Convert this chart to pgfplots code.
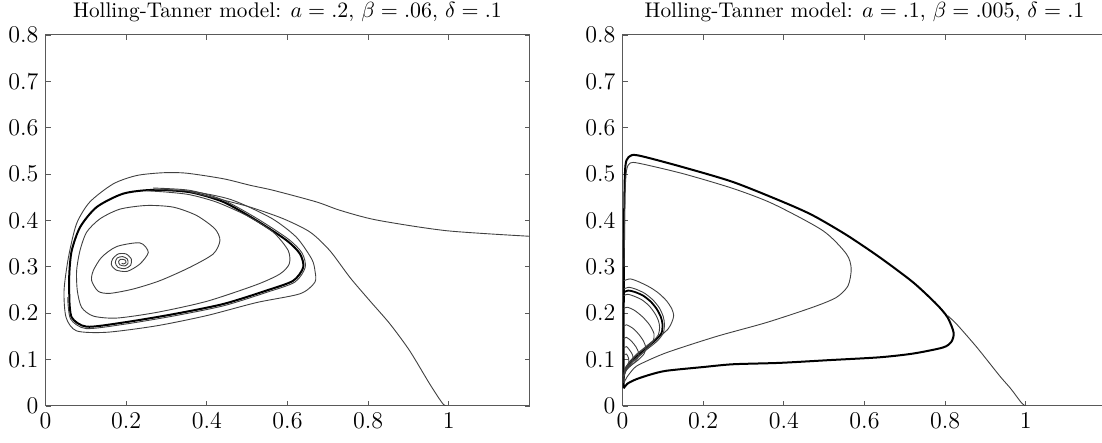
\documentclass[border=0pt]{standalone}
\usepackage{pgfplots}
\pgfplotsset{compat=1.18}

\pgfplotsset{
  phase/.style={
    scale only axis, width=242pt, height=185.5pt, anchor=south west,
    xmin=0, xmax=1.2, ymin=0, ymax=0.8,
    xtick={0,0.2,0.4,0.6,0.8,1},
    ytick={0,0.1,0.2,0.3,0.4,0.5,0.6,0.7,0.8},
    tick label style={font=\large},
    major tick length=2.5pt,
    axis line style={black!65, line width=0.5pt},
    tick style={black!65, line width=0.4pt},
    title style={yshift=-3pt, font=\fontsize{10.6}{12}\selectfont},
  },
  thin/.style={black!75, line width=0.45pt, smooth, tension=0.45},
  thk/.style={black, line width=1.0pt, smooth, tension=0.45},
}

\begin{document}
\begin{tikzpicture}
\useasboundingbox (0,0) rectangle (551pt,221.5pt);

% left panel
\begin{axis}[phase, at={(22.75pt,18.5pt)},
  title={Holling-Tanner model: $a = .2$, $\beta = .06$, $\delta = .1$}]

% limit cycle
\addplot[thk] coordinates {
  (0.059,0.234) (0.065,0.191) (0.102,0.171) (0.193,0.180) (0.317,0.198)
  (0.441,0.220) (0.548,0.249) (0.614,0.270) (0.639,0.299) (0.631,0.328)
  (0.598,0.357) (0.523,0.400) (0.441,0.440) (0.358,0.461) (0.267,0.466)
  (0.193,0.458) (0.127,0.429) (0.086,0.386) (0.065,0.335) (0.059,0.285)
  (0.059,0.234)
};
\addplot[thin] coordinates {
  (0.055,0.234) (0.062,0.188) (0.100,0.167) (0.193,0.176) (0.317,0.194)
  (0.441,0.216) (0.548,0.245) (0.618,0.267) (0.644,0.299) (0.636,0.330)
  (0.602,0.360) (0.525,0.404) (0.441,0.444) (0.358,0.465) (0.267,0.470)
};

% from the right edge, outside the cycle
\addplot[thin] coordinates {
  (1.200,0.366) (0.994,0.378) (0.821,0.401) (0.730,0.422) (0.672,0.440)
  (0.565,0.465) (0.507,0.476) (0.441,0.490) (0.350,0.502) (0.292,0.503)
  (0.226,0.497) (0.168,0.479) (0.110,0.440) (0.077,0.393) (0.057,0.321)
  (0.046,0.249) (0.051,0.191) (0.077,0.162) (0.152,0.159) (0.276,0.173)
  (0.400,0.195) (0.523,0.223) (0.631,0.242) (0.668,0.267) (0.668,0.292)
  (0.660,0.317) (0.622,0.364) (0.560,0.405) (0.460,0.445) (0.360,0.463)
  (0.270,0.467)
};

% from (1,0)
\addplot[thin] coordinates {
  (1.000,0.000) (0.986,0.004) (0.953,0.047) (0.903,0.119) (0.854,0.177)
  (0.804,0.227) (0.755,0.277) (0.705,0.335) (0.656,0.375) (0.589,0.404)
  (0.507,0.429) (0.441,0.444) (0.358,0.462)
};

% spiral from the equilibrium
\addplot[thin] coordinates {
  (0.1888,0.3077) (0.1929,0.3063) (0.1995,0.3092) (0.1970,0.3150)
  (0.1863,0.3164) (0.1813,0.3114) (0.1846,0.3042) (0.1970,0.3020)
  (0.2045,0.3077) (0.2028,0.3171) (0.1912,0.3222) (0.1780,0.3193)
  (0.1731,0.3092) (0.1797,0.2991) (0.1970,0.2962) (0.2111,0.3034)
  (0.2127,0.3171) (0.1995,0.3279) (0.1805,0.3279) (0.1665,0.3171)
  (0.1632,0.3049) (0.1747,0.2933) (0.2028,0.2904) (0.2342,0.3063)
  (0.2549,0.3315) (0.2342,0.3517) (0.1764,0.3438) (0.1392,0.3207)
  (0.1185,0.2919) (0.1144,0.2703) (0.1309,0.2472) (0.1599,0.2429)
  (0.2177,0.2523) (0.2838,0.2703) (0.3581,0.2991) (0.4159,0.3279)
  (0.4325,0.3568) (0.4201,0.3820) (0.3746,0.4108) (0.3168,0.4288)
  (0.2507,0.4324) (0.1846,0.4245) (0.1351,0.4036) (0.1020,0.3748)
  (0.0855,0.3351) (0.0772,0.2919) (0.0789,0.2486) (0.0896,0.2126)
  (0.1185,0.1939) (0.1764,0.1896) (0.2755,0.2018) (0.3994,0.2256)
  (0.5233,0.2616) (0.5812,0.2847) (0.6043,0.3063) (0.6018,0.3351)
  (0.5646,0.3748) (0.4986,0.4108) (0.4242,0.4396) (0.3581,0.4555)
  (0.3003,0.4613) (0.2500,0.4640)
};
\end{axis}

% right panel
\begin{axis}[phase, at={(311.25pt,18.5pt)},
  title={Holling-Tanner model: $a = .1$, $\beta = .005$, $\delta = .1$}]

% large loop
\addplot[thk] coordinates {
  (0.003,0.038) (0.012,0.048) (0.035,0.058) (0.070,0.068) (0.109,0.076)
  (0.200,0.084) (0.274,0.090) (0.390,0.093) (0.514,0.099) (0.637,0.105)
  (0.720,0.113) (0.794,0.126) (0.815,0.138) (0.821,0.158) (0.806,0.191)
  (0.778,0.220) (0.720,0.267) (0.637,0.321) (0.555,0.369) (0.472,0.411)
  (0.398,0.440) (0.274,0.483) (0.150,0.515) (0.051,0.538) (0.023,0.541)
  (0.010,0.530) (0.006,0.501) (0.004,0.400) (0.003,0.200) (0.003,0.038)
};

% from (1,0)
\addplot[thin] coordinates {
  (1.000,0.000) (0.990,0.006) (0.962,0.038) (0.935,0.065) (0.880,0.125)
  (0.830,0.175) (0.806,0.195)
};

% medium loop
\addplot[thin] coordinates {
  (0.004,0.050) (0.010,0.061) (0.027,0.080) (0.043,0.090) (0.109,0.115)
  (0.233,0.150) (0.357,0.180) (0.472,0.213) (0.530,0.234) (0.559,0.259)
  (0.567,0.296) (0.555,0.328) (0.497,0.378) (0.373,0.436) (0.274,0.469)
  (0.150,0.501) (0.043,0.523) (0.019,0.524) (0.010,0.508) (0.006,0.450)
  (0.004,0.300)
};

% small loops near the origin
\addplot[thin] coordinates {
  (0.003,0.270) (0.019,0.274) (0.040,0.268) (0.068,0.256) (0.090,0.243)
  (0.109,0.227) (0.122,0.210) (0.127,0.195) (0.122,0.180) (0.113,0.166)
  (0.095,0.152) (0.076,0.141) (0.055,0.126) (0.035,0.112) (0.020,0.098)
  (0.010,0.086) (0.004,0.070)
};
\addplot[thk, line width=0.9pt] coordinates {
  (0.003,0.245) (0.014,0.249) (0.030,0.246) (0.051,0.238) (0.070,0.225)
  (0.085,0.209) (0.095,0.192) (0.099,0.177) (0.097,0.158) (0.082,0.142)
  (0.060,0.126) (0.040,0.111) (0.027,0.101) (0.014,0.088) (0.006,0.076)
  (0.003,0.060)
};
\addplot[thin] coordinates {
  (0.003,0.252) (0.015,0.256) (0.033,0.252) (0.055,0.243) (0.075,0.229)
  (0.091,0.212) (0.101,0.193) (0.104,0.176) (0.101,0.157) (0.086,0.140)
  (0.062,0.123) (0.040,0.108) (0.022,0.094) (0.009,0.080) (0.003,0.062)
};
\addplot[thin] coordinates {
  (0.003,0.238) (0.013,0.241) (0.028,0.237) (0.048,0.229) (0.066,0.216)
  (0.080,0.200) (0.089,0.184) (0.092,0.170) (0.089,0.154) (0.076,0.140)
  (0.056,0.125) (0.036,0.111) (0.020,0.097) (0.008,0.082) (0.003,0.064)
};
\addplot[thin] coordinates {
  (0.003,0.210) (0.012,0.213) (0.030,0.206) (0.050,0.192) (0.067,0.175)
  (0.078,0.156) (0.076,0.140) (0.062,0.125) (0.045,0.110) (0.025,0.095)
  (0.010,0.080) (0.004,0.065)
};
\addplot[thin] coordinates {
  (0.003,0.172) (0.010,0.175) (0.025,0.168) (0.040,0.155) (0.052,0.140)
  (0.058,0.125) (0.053,0.112) (0.040,0.100) (0.025,0.090) (0.012,0.080)
  (0.004,0.068)
};
\addplot[thin] coordinates {
  (0.003,0.145) (0.010,0.148) (0.022,0.140) (0.033,0.128) (0.040,0.115)
  (0.038,0.103) (0.028,0.093) (0.015,0.083) (0.005,0.072)
};
\addplot[thin] coordinates {
  (0.003,0.125) (0.010,0.128) (0.018,0.120) (0.025,0.110) (0.026,0.100)
  (0.020,0.090) (0.010,0.082) (0.004,0.075)
};
\addplot[thin] coordinates {
  (0.003,0.110) (0.010,0.112) (0.015,0.103) (0.016,0.095) (0.012,0.087)
  (0.005,0.080) (0.003,0.050)
};
\end{axis}
\end{tikzpicture}
\end{document}
